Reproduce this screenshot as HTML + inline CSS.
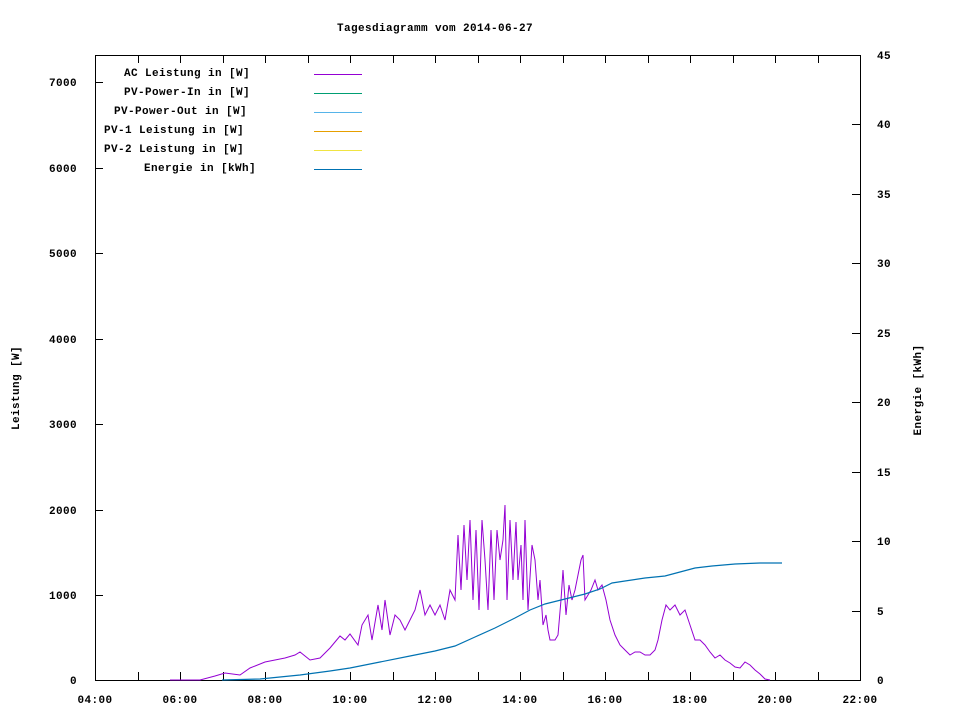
<!DOCTYPE html>
<html><head><meta charset="utf-8"><style>
body{margin:0;background:#fff}
svg text{font-family:"Liberation Mono","DejaVu Sans Mono",monospace;font-size:11px;font-weight:bold;fill:#000;letter-spacing:0.4px}
</style></head><body>
<svg width="960" height="720" viewBox="0 0 960 720" xmlns="http://www.w3.org/2000/svg">
<rect width="960" height="720" fill="#fff"/>
<text x="435" y="31" text-anchor="middle">Tagesdiagramm vom 2014-06-27</text>
<rect x="95.5" y="55.5" width="765" height="625" fill="none" stroke="#000"/>
<g stroke="#000">
<path d="M95 680.5h8M95 595.5h8M95 510.5h8M95 424.5h8M95 339.5h8M95 253.5h8M95 168.5h8M95 82.5h8"/>
<path d="M860 680.5h-8M860 611.5h-8M860 541.5h-8M860 472.5h-8M860 402.5h-8M860 333.5h-8M860 263.5h-8M860 194.5h-8M860 124.5h-8M860 55.5h-8"/>
<path d="M95.5 680v-8M138.5 680v-8M180.5 680v-8M223.5 680v-8M265.5 680v-8M308.5 680v-8M350.5 680v-8M393.5 680v-8M435.5 680v-8M478.5 680v-8M520.5 680v-8M563.5 680v-8M605.5 680v-8M648.5 680v-8M690.5 680v-8M733.5 680v-8M775.5 680v-8M818.5 680v-8M860.5 680v-8"/>
<path d="M138.5 55v8M180.5 55v8M223.5 55v8M265.5 55v8M308.5 55v8M350.5 55v8M393.5 55v8M435.5 55v8M478.5 55v8M520.5 55v8M563.5 55v8M605.5 55v8M648.5 55v8M690.5 55v8M733.5 55v8M775.5 55v8M818.5 55v8"/>
</g>
<g text-anchor="end">
<text x="77" y="684">0</text><text x="77" y="599">1000</text><text x="77" y="514">2000</text><text x="77" y="428">3000</text><text x="77" y="343">4000</text><text x="77" y="257">5000</text><text x="77" y="172">6000</text><text x="77" y="86">7000</text>
</g>
<g>
<text x="877" y="684">0</text><text x="877" y="615">5</text><text x="877" y="545">10</text><text x="877" y="476">15</text><text x="877" y="406">20</text><text x="877" y="337">25</text><text x="877" y="267">30</text><text x="877" y="198">35</text><text x="877" y="128">40</text><text x="877" y="59">45</text>
</g>
<g text-anchor="middle">
<text x="95" y="703">04:00</text><text x="180" y="703">06:00</text><text x="265" y="703">08:00</text><text x="350" y="703">10:00</text><text x="435" y="703">12:00</text><text x="520" y="703">14:00</text><text x="605" y="703">16:00</text><text x="690" y="703">18:00</text><text x="775" y="703">20:00</text><text x="860" y="703">22:00</text>
</g>
<text transform="translate(19,388) rotate(-90)" text-anchor="middle">Leistung [W]</text>
<text transform="translate(921,390) rotate(-90)" text-anchor="middle">Energie [kWh]</text>
<g text-anchor="end">
<text x="250" y="76">AC Leistung in [W]</text>
<text x="250" y="95">PV-Power-In in [W]</text>
<text x="247" y="114">PV-Power-Out in [W]</text>
<text x="244" y="133">PV-1 Leistung in [W]</text>
<text x="244" y="152">PV-2 Leistung in [W]</text>
<text x="256" y="171">Energie in [kWh]</text>
</g>
<path d="M314 74.5h48" stroke="#9400d3"/>
<path d="M314 93.5h48" stroke="#009e73"/>
<path d="M314 112.5h48" stroke="#56b4e9"/>
<path d="M314 131.5h48" stroke="#e69f00"/>
<path d="M314 150.5h48" stroke="#f0e442"/>
<path d="M314 169.5h48" stroke="#0072b2"/>
<polyline fill="none" stroke="#9400d3" stroke-width="1" points="170,680 200,680 215,676 225,673 240,675 250,668 265,662 275,660 285,658 295,655 300,652 310,660 320,658 330,648 340,636 345,640 350,634 358,645 362,625 368,615 372,640 378,605 382,630 385,600 390,635 395,615 400,620 405,630 410,620 415,610 420,590 425,615 430,605 435,615 440,605 445,620 450,590 455,600 458,535 461,590 464,525 467,580 470,520 473,600 476,530 479,610 482,520 485,560 488,610 491,530 494,600 497,530 500,560 503,540 505,505 507,600 510,520 513,580 516,522 518,580 521,545 523,600 525,520 528,610 532,545 535,560 538,600 540,580 543,625 546,615 548,630 550,640 555,640 558,635 561,600 563,570 566,615 569,585 572,600 575,590 578,575 581,560 583,555 585,600 588,595 591,590 595,580 598,590 602,585 606,600 610,620 615,635 620,645 625,650 630,655 635,652 640,652 645,655 650,655 655,650 658,640 662,620 666,605 670,610 675,605 680,615 685,610 690,625 695,640 700,640 705,645 710,652 715,658 720,655 725,660 730,663 735,667 740,668 745,662 750,665 755,670 760,674 765,679 770,680"/>
<polyline fill="none" stroke="#0072b2" stroke-width="1.2" points="222,680 260,679 300,675 330,671 350,668 380,662 410,656 435,651 455,646 475,637 495,628 515,618 530,610 545,604 565,599 585,594 600,589 612,583 625,581 645,578 665,576 680,572 695,568 712,566 735,564 760,563 782,563"/>
</svg>
</body></html>
